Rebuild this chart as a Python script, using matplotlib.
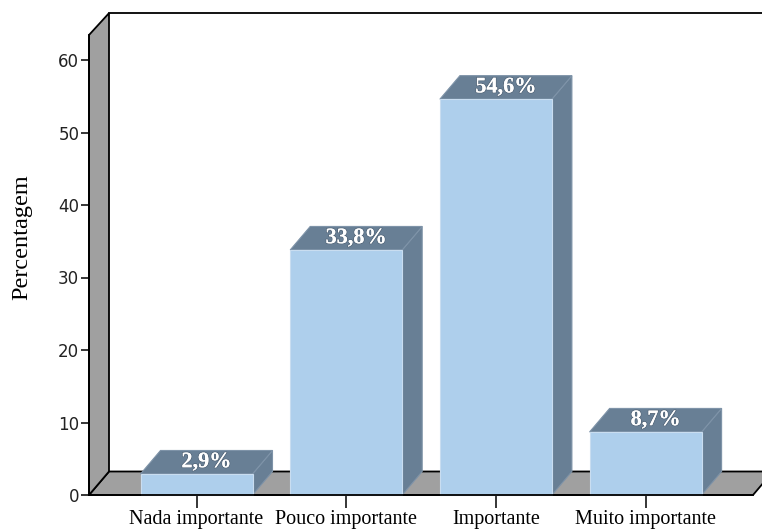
import numpy as np
import matplotlib
matplotlib.use("Agg")
import matplotlib.pyplot as plt
import matplotlib.patheffects as pe

categories = ["Nada importante", "Pouco importante", "Importante", "Muito importante"]
values = [2.9, 33.8, 54.6, 8.7]
labels = ["2,9%", "33,8%", "54,6%", "8,7%"]
yticks = [0, 10, 20, 30, 40, 50, 60]

FRONT = "#AECFEC"
DARK = "#687F95"
WALL = "#A0A0A0"

W, H = 762, 530
fig = plt.figure(figsize=(W / 100, H / 100), dpi=100)

# axes box in pixels: front-left edge of wall to right of image
px_left, px_right, px_bot, px_top = 89, 762, 495, 35
ax = fig.add_axes([px_left / W, (H - px_bot) / H, (px_right - px_left) / W, (px_bot - px_top) / H])

step = 149.7          # px per category
c0 = 196.5            # px of first category
ppu = 72.5 / 10       # px per percent
xl = (px_left - c0) / step
xr = (px_right - c0) / step
ytop = (px_bot - px_top) / ppu
ax.set_xlim(xl, xr)
ax.set_ylim(0, ytop)

dx = 20 / step
dy = 23.5 / ppu
bw = 112 / step
floor_r = (753 - c0) / step

# floor and left wall
ax.fill([xl, floor_r, floor_r + dx, xl + dx], [0, 0, dy, dy], facecolor=WALL,
        edgecolor="black", lw=1.3, clip_on=False, zorder=1)
ax.fill([xl, xl + dx, xl + dx, xl], [0, dy, ytop + dy * 0.93, ytop], facecolor=WALL,
        edgecolor="black", lw=1.3, clip_on=False, zorder=1)
ax.plot([xl + dx, xr + 0.1], [ytop + dy * 0.93] * 2, color="black", lw=1.3,
        clip_on=False, zorder=1)

shadow = [pe.withSimplePatchShadow(offset=(0.8, -0.8), shadow_rgbFace="#3A4A5A", alpha=0.6)]
x = np.arange(len(categories))
for i, v in enumerate(values):
    l, r = x[i] - bw / 2, x[i] + bw / 2
    ax.fill([r, r + dx, r + dx, r], [0, dy, v + dy, v], facecolor=DARK,
            edgecolor="#7E93A8", lw=0.8, zorder=3, clip_on=False)
    ax.fill([l, r, r + dx, l + dx], [v, v, v + dy, v + dy], facecolor=DARK,
            edgecolor="#7E93A8", lw=0.8, zorder=3, clip_on=False)
    t = ax.text(x[i] + dx / 2, v + dy / 2, labels[i], color="white", fontweight="bold",
                family="Liberation Serif", fontsize=16, ha="center", va="center", zorder=5)
    t.set_path_effects([pe.withStroke(linewidth=1.2, foreground="#55677A"), pe.Normal()])
ax.bar(x, values, width=bw, color=FRONT, edgecolor="#C9DDF0", lw=0.8, zorder=4, clip_on=False)

for s in ["top", "right"]:
    ax.spines[s].set_visible(False)
ax.spines["left"].set_linewidth(1.3)
ax.spines["bottom"].set_linewidth(1.3)
ax.spines["bottom"].set_bounds(xl, floor_r)
ax.spines["left"].set_zorder(6)
ax.spines["bottom"].set_zorder(6)

ax.set_yticks(yticks)
ax.set_yticklabels([str(t) for t in yticks], family="DejaVu Sans", fontsize=12, color="#222222")
ax.tick_params(axis="y", direction="out", length=6, width=1.1, pad=1)
ax.set_xticks(x)
ax.set_xticklabels(categories, family="Liberation Serif", fontsize=14.5)
ax.tick_params(axis="x", direction="out", length=9, width=1.1, pad=2)
ax.patch.set_alpha(0)

fig.text(22 / W, (H - 237) / H, "Percentagem", rotation=90, ha="center", va="center",
         family="Liberation Serif", fontsize=17.5)

fig.savefig("out.png", dpi=100)
